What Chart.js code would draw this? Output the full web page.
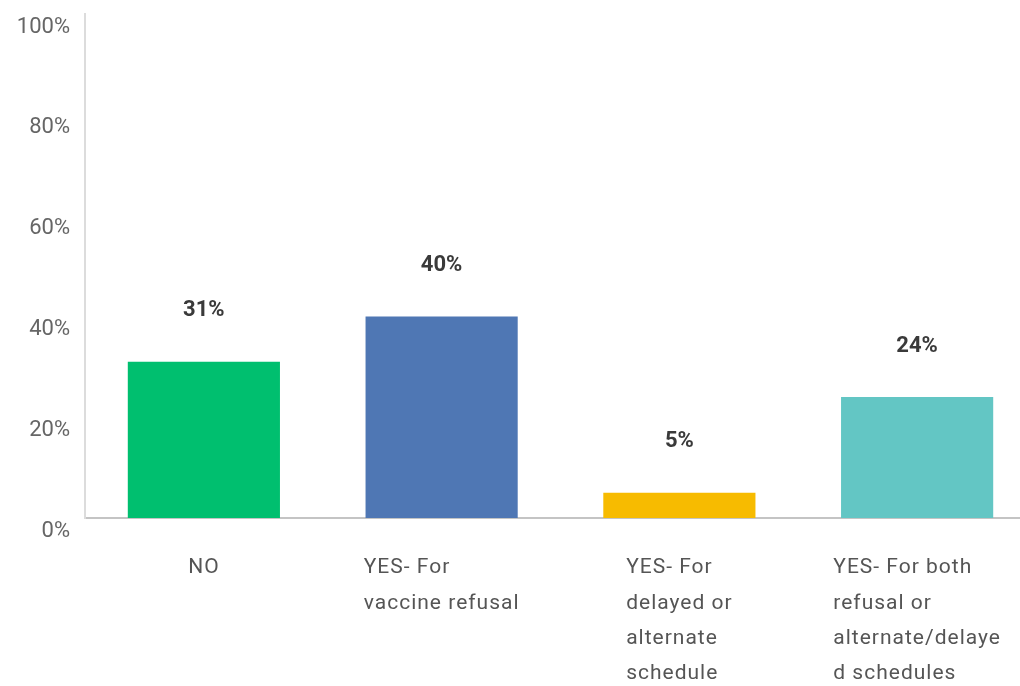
<!DOCTYPE html>
<html>
<head>
<meta charset="utf-8">
<title>Vaccine policy responses</title>
<script src="https://cdn.jsdelivr.net/npm/chart.js@4/dist/chart.umd.min.js"></script>
<style>
  html, body { margin: 0; padding: 0; background: #fff; overflow: hidden; }
  #wrap { width: 1036px; height: 686px; }
</style>
</head>
<body>
<div id="wrap"><canvas id="chart"></canvas></div>
<script>
  const categories = [
    ["NO"],
    ["YES- For", "vaccine refusal"],
    ["YES- For", "delayed or", "alternate", "schedule"],
    ["YES- For both", "refusal or", "alternate/delaye", "d schedules"],
  ];
  const values = [31, 40, 5, 24];
  const barColors = ["#00bf6f", "#4f77b4", "#f7bb00", "#63c6c4"];
  const yTicks = [0, 20, 40, 60, 80, 100];

  const FONT = 'Roboto, "Liberation Sans", sans-serif';

  // percentages above each bar
  const valueLabels = {
    id: "valueLabels",
    afterDatasetsDraw(chart) {
      const ctx = chart.ctx;
      const meta = chart.getDatasetMeta(0);
      ctx.save();
      ctx.font = "bold 22px " + FONT;
      ctx.fillStyle = "#3a3a3a";
      ctx.textAlign = "center";
      ctx.textBaseline = "middle";
      meta.data.forEach((bar, i) => {
        ctx.fillText(values[i] + "%", bar.x, bar.y - 51);
      });
      ctx.restore();
    },
  };

  // category text: block centred under the bar, lines left-aligned
  const categoryLabels = {
    id: "categoryLabels",
    afterDraw(chart) {
      const ctx = chart.ctx;
      const x = chart.scales.x;
      ctx.save();
      ctx.font = "21px " + FONT;
      ctx.letterSpacing = "1px";
      ctx.fillStyle = "#555";
      ctx.textBaseline = "middle";
      ctx.textAlign = "left";
      categories.forEach((lines, i) => {
        const cx = x.getPixelForValue(i);
        const w = Math.max(...lines.map((l) => ctx.measureText(l).width));
        lines.forEach((l, j) => {
          ctx.fillText(l, cx - w / 2, x.top + 50 + j * 35.4);
        });
      });
      ctx.restore();
    },
  };

  new Chart(document.getElementById("chart"), {
    type: "bar",
    data: {
      labels: categories.map((c) => c.join(" ")),
      datasets: [{
        data: values,
        backgroundColor: barColors,
        borderWidth: 0,
        categoryPercentage: 1,
        barPercentage: 0.64,
      }],
    },
    options: {
      responsive: true,
      maintainAspectRatio: false,
      animation: false,
      layout: { padding: { top: 14, right: 0, bottom: 0, left: 0 } },
      plugins: { legend: { display: false }, tooltip: { enabled: false } },
      scales: {
        x: {
          grid: { display: false },
          border: { color: "#c4c4c4", width: 2 },
          ticks: { display: false },
          afterFit: (s) => { s.height = 168; },
        },
        y: {
          min: 0, max: 100,
          afterBuildTicks: (s) => { s.ticks = yTicks.map((v) => ({ value: v })); },
          grid: { display: false },
          border: { color: "#dcdcdc", width: 2 },
          ticks: {
            padding: 7,
            labelOffset: 13,
            color: "#666",
            font: { family: FONT, size: 22 },
            callback: (v) => v + "%",
          },
          afterFit: (s) => {
            s.width = 85;
            s.paddingTop = 0;
            s.paddingBottom = 0;
          },
        },
      },
    },
    plugins: [valueLabels, categoryLabels],
  });
</script>
</body>
</html>
